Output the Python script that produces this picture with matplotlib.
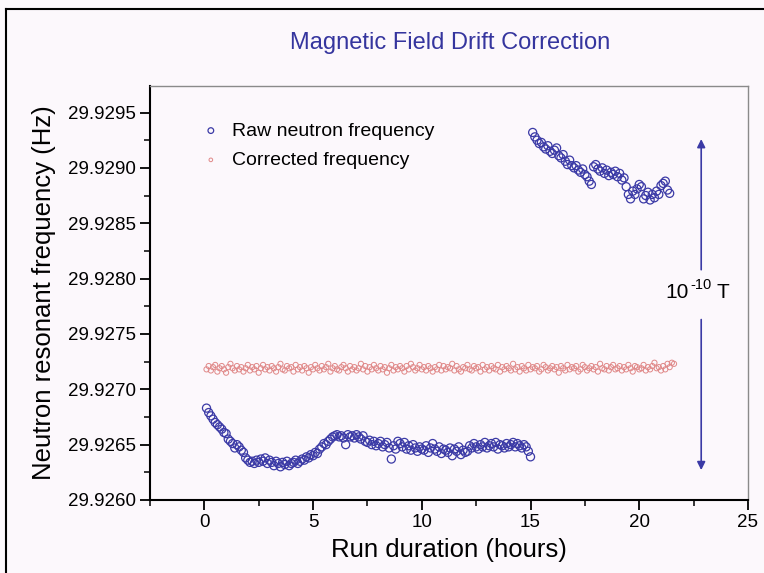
import numpy as np
import matplotlib
matplotlib.use("Agg")
import matplotlib.pyplot as plt
from matplotlib.lines import Line2D
from matplotlib.ticker import MultipleLocator, FormatStrFormatter

plt.rcParams['font.family'] = ['Liberation Sans', 'DejaVu Sans']

# raw frequency, first run (0.1 h .. 15.0 h, every 0.1 h)
raw1_t = np.round(np.arange(0.1, 15.05, 0.1), 1)
raw1_f = [
    29.92683, 29.92679, 29.92676, 29.92673, 29.92670, 29.92668, 29.92666, 29.92664, 29.92661, 29.92660,
    29.92655, 29.92653, 29.92651, 29.92647, 29.92650, 29.92648, 29.92645, 29.92643, 29.92638, 29.92636,
    29.92634, 29.92635, 29.92633, 29.92636, 29.92634, 29.92637, 29.92635, 29.92638, 29.92633, 29.92636,
    29.92634, 29.92631, 29.92635, 29.92633, 29.92630, 29.92634, 29.92632, 29.92635, 29.92631, 29.92633,
    29.92634, 29.92636, 29.92633, 29.92635, 29.92637, 29.92636, 29.92639, 29.92638, 29.92641, 29.92640,
    29.92643, 29.92642, 29.92646, 29.92648, 29.92651, 29.92650, 29.92653, 29.92655, 29.92657, 29.92658,
    29.92659, 29.92657, 29.92658, 29.92656, 29.92650, 29.92659, 29.92657, 29.92658, 29.92656, 29.92659,
    29.92657, 29.92655, 29.92658, 29.92653, 29.92652, 29.92654, 29.92650, 29.92653, 29.92649, 29.92651,
    29.92653, 29.92648, 29.92650, 29.92652, 29.92647, 29.92637, 29.92649, 29.92646, 29.92653, 29.92651,
    29.92648, 29.92652, 29.92646, 29.92649, 29.92645, 29.92650, 29.92647, 29.92644, 29.92648, 29.92646,
    29.92645, 29.92649, 29.92643, 29.92647, 29.92651, 29.92646, 29.92644, 29.92648, 29.92642, 29.92646,
    29.92645, 29.92643, 29.92647, 29.92640, 29.92646, 29.92644, 29.92648, 29.92641, 29.92645, 29.92643,
    29.92644, 29.92649, 29.92647, 29.92651, 29.92648, 29.92646, 29.92650, 29.92648, 29.92652, 29.92647,
    29.92649, 29.92651, 29.92648, 29.92652, 29.92646, 29.92650, 29.92649, 29.92647, 29.92651, 29.92648,
    29.92650, 29.92652, 29.92648, 29.92651, 29.92649, 29.92647, 29.92650, 29.92648, 29.92644, 29.92639,
]

# raw frequency, second run (15.1 h .. 21.4 h)
raw2_t = np.round(np.arange(15.1, 21.45, 0.1), 1)
raw2_f = [
    29.92932, 29.92928, 29.92925, 29.92922, 29.92923, 29.92919, 29.92917, 29.92920, 29.92915, 29.92913,
    29.92916, 29.92918, 29.92911, 29.92909, 29.92912, 29.92906, 29.92903, 29.92907, 29.92902, 29.92900,
    29.92902, 29.92898, 29.92896, 29.92899, 29.92894, 29.92892, 29.92888, 29.92885, 29.92901, 29.92903,
    29.92899, 29.92897, 29.92900, 29.92895, 29.92898, 29.92893, 29.92896, 29.92894, 29.92897, 29.92892,
    29.92895, 29.92889, 29.92891, 29.92883, 29.92876, 29.92872, 29.92879, 29.92876, 29.92881, 29.92885,
    29.92883, 29.92872, 29.92875, 29.92878, 29.92871, 29.92876, 29.92873, 29.92879, 29.92876, 29.92884,
    29.92886, 29.92888, 29.92880, 29.92877,
]

# corrected frequency (0.1 h .. 21.6 h)
corr_t = np.round(np.arange(0.1, 21.65, 0.1), 1)
corr_f = [
    29.92718, 29.92721, 29.92717, 29.92720, 29.92722, 29.92716, 29.92719, 29.92721, 29.92718, 29.92715,
    29.92720, 29.92723, 29.92719, 29.92717, 29.92721, 29.92718, 29.92720, 29.92716, 29.92719, 29.92722,
    29.92717, 29.92720, 29.92718, 29.92721, 29.92715, 29.92719, 29.92722, 29.92718, 29.92720, 29.92717,
    29.92721, 29.92719, 29.92716, 29.92720, 29.92723, 29.92718, 29.92717, 29.92721, 29.92719, 29.92720,
    29.92716, 29.92722, 29.92718, 29.92720, 29.92717, 29.92721, 29.92719, 29.92715, 29.92720, 29.92718,
    29.92722, 29.92719, 29.92717, 29.92721, 29.92718, 29.92720, 29.92723, 29.92716, 29.92719, 29.92721,
    29.92718, 29.92717, 29.92720, 29.92722, 29.92719, 29.92716, 29.92721, 29.92718, 29.92720, 29.92717,
    29.92719, 29.92723, 29.92718, 29.92721, 29.92716, 29.92720, 29.92718, 29.92722, 29.92719, 29.92717,
    29.92721, 29.92718, 29.92720, 29.92715, 29.92719, 29.92722, 29.92717, 29.92720, 29.92718, 29.92721,
    29.92719, 29.92716, 29.92721, 29.92718, 29.92723, 29.92720, 29.92717, 29.92719, 29.92722, 29.92718,
    29.92720, 29.92717, 29.92721, 29.92719, 29.92716, 29.92720, 29.92718, 29.92722, 29.92717, 29.92721,
    29.92718, 29.92720, 29.92719, 29.92723, 29.92717, 29.92721, 29.92718, 29.92716, 29.92720, 29.92719,
    29.92722, 29.92718, 29.92717, 29.92721, 29.92719, 29.92720, 29.92716, 29.92722, 29.92718, 29.92720,
    29.92717, 29.92721, 29.92719, 29.92718, 29.92722, 29.92716, 29.92720, 29.92718, 29.92721, 29.92719,
    29.92717, 29.92723, 29.92718, 29.92720, 29.92716, 29.92721, 29.92719, 29.92717, 29.92722, 29.92718,
    29.92720, 29.92719, 29.92721, 29.92716, 29.92718, 29.92722, 29.92720, 29.92717, 29.92719, 29.92721,
    29.92718, 29.92720, 29.92715, 29.92721, 29.92719, 29.92717, 29.92722, 29.92718, 29.92720, 29.92719,
    29.92721, 29.92716, 29.92718, 29.92722, 29.92720, 29.92717, 29.92719, 29.92721, 29.92718, 29.92720,
    29.92716, 29.92723, 29.92719, 29.92718, 29.92721, 29.92717, 29.92720, 29.92722, 29.92718, 29.92719,
    29.92721, 29.92717, 29.92720, 29.92718, 29.92722, 29.92719, 29.92716, 29.92721, 29.92720, 29.92718,
    29.92719, 29.92722, 29.92717, 29.92720, 29.92718, 29.92721, 29.92724, 29.92719, 29.92720, 29.92717,
    29.92721, 29.92718, 29.92723, 29.92720, 29.92724, 29.92723,
]

blue = "#3b3aa6"
pink = "#e08888"
bg = "#fcf8fc"

fig = plt.figure(figsize=(7.64, 5.73), dpi=100, facecolor=bg)
ax = fig.add_axes([0.1963, 0.1274, 0.7827, 0.7226], facecolor=bg)

ax.scatter(raw1_t, raw1_f, s=34, facecolors="none", edgecolors=blue, linewidths=0.9,
           label="Raw neutron frequency", zorder=3)
ax.scatter(raw2_t, raw2_f, s=34, facecolors="none", edgecolors=blue, linewidths=0.9, zorder=3)
ax.scatter(corr_t, corr_f, s=14, facecolors="none", edgecolors=pink, linewidths=0.7,
           label="Corrected frequency", zorder=3)

ax.set_xlim(-2.5, 25)
ax.set_ylim(29.9260, 29.92974)
ax.xaxis.set_major_locator(MultipleLocator(5))
ax.xaxis.set_minor_locator(MultipleLocator(2.5))
ax.yaxis.set_major_locator(MultipleLocator(0.0005))
ax.yaxis.set_minor_locator(MultipleLocator(0.00025))
ax.yaxis.set_major_formatter(FormatStrFormatter("%.4f"))
ax.tick_params(which="major", direction="out", length=7, width=1.3, labelsize=13.5, pad=3)
ax.tick_params(which="minor", direction="out", length=4, width=1.1)
ax.tick_params(axis="y", which="both", right=False)
ax.tick_params(axis="x", which="both", top=False)

for s in ("left", "bottom"):
    ax.spines[s].set_linewidth(1.5)
    ax.spines[s].set_color("black")
for s in ("top", "right"):
    ax.spines[s].set_linewidth(1.0)
    ax.spines[s].set_color("#8a8a8a")

ax.set_xlabel("Run duration (hours)", fontsize=18.5, labelpad=5)
ax.set_ylabel("Neutron resonant frequency (Hz)", fontsize=18.5, labelpad=9)
fig.text(0.589, 0.925, "Magnetic Field Drift Correction", color="#35359e",
         fontsize=17, ha="center", va="center")

leg = ax.legend(loc="upper left", bbox_to_anchor=(0.04, 0.955), frameon=False,
                fontsize=14, handletextpad=0.1, labelspacing=0.6, markerscale=0.7,
                scatterpoints=1)

# 1e-10 T arrows
ax.annotate("", xy=(22.85, 29.92926), xytext=(22.85, 29.92808),
            arrowprops=dict(arrowstyle="-|>", color=blue, lw=1.2, mutation_scale=12,
                            shrinkA=0, shrinkB=0))
ax.annotate("", xy=(22.85, 29.92627), xytext=(22.85, 29.92763),
            arrowprops=dict(arrowstyle="-|>", color=blue, lw=1.2, mutation_scale=12,
                            shrinkA=0, shrinkB=0))
ax.text(22.3, 29.92787, "10", fontsize=15, ha="right", va="center")
ax.annotate("-10", xy=(22.3, 29.92787), xytext=(0.5, 0.5), textcoords="offset points",
            fontsize=10.5, ha="left", va="bottom")
ax.annotate("T", xy=(22.3, 29.92787), xytext=(19.5, 0), textcoords="offset points",
            fontsize=15, ha="left", va="center")

# scan frame
fig.add_artist(Line2D([0.008, 1.0], [0.984, 0.984], color="black", lw=1.5,
                      transform=fig.transFigure))
fig.add_artist(Line2D([0.008, 0.008], [0.0, 0.984], color="black", lw=1.5,
                      transform=fig.transFigure))

fig.savefig("out.png", dpi=100, facecolor=bg)
